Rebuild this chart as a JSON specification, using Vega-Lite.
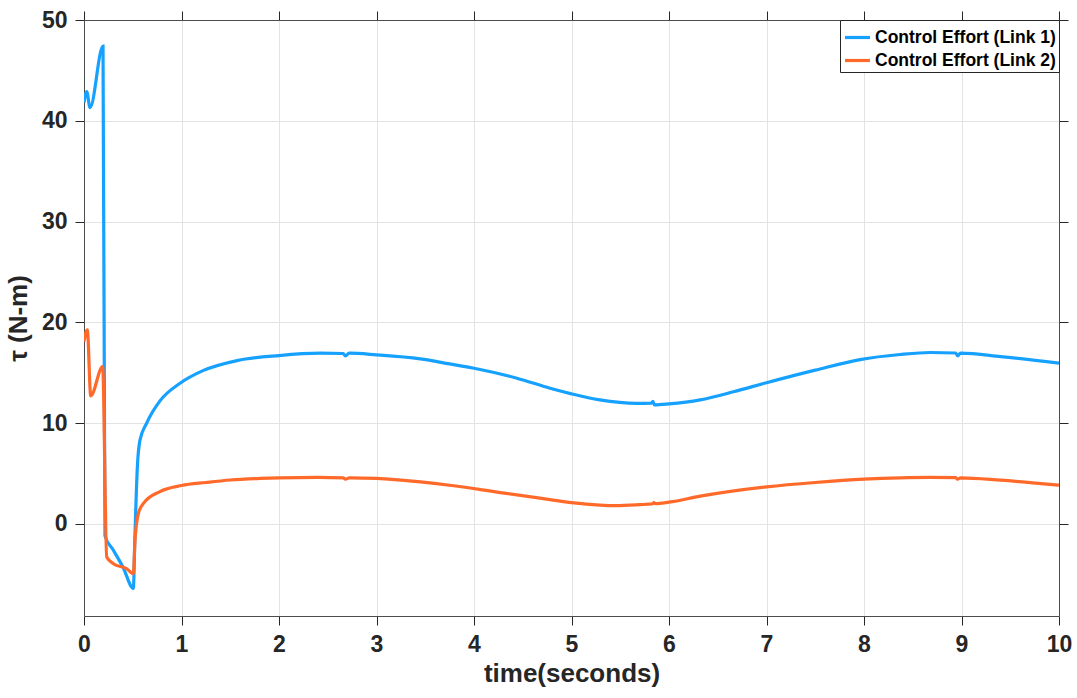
{
  "$schema": "https://vega.github.io/schema/vega-lite/v6.json",
  "autosize": {"type": "none"},
  "width": 975,
  "height": 596,
  "padding": {"left": 84, "top": 20, "right": 18, "bottom": 82},
  "background": "white",
  "data": {
    "values": [
      {"t": 0.0, "v": 41.8, "s": "Control Effort (Link 1)"},
      {"t": 0.028, "v": 42.9, "s": "Control Effort (Link 1)"},
      {"t": 0.062, "v": 41.3, "s": "Control Effort (Link 1)"},
      {"t": 0.195, "v": 47.4, "s": "Control Effort (Link 1)"},
      {"t": 0.215, "v": -1.2, "s": "Control Effort (Link 1)"},
      {"t": 0.3, "v": -2.6, "s": "Control Effort (Link 1)"},
      {"t": 0.4, "v": -4.3, "s": "Control Effort (Link 1)"},
      {"t": 0.506, "v": -6.4, "s": "Control Effort (Link 1)"},
      {"t": 0.523, "v": -1.0, "s": "Control Effort (Link 1)"},
      {"t": 0.547, "v": 5.6, "s": "Control Effort (Link 1)"},
      {"t": 0.574, "v": 8.3, "s": "Control Effort (Link 1)"},
      {"t": 0.643, "v": 10.0, "s": "Control Effort (Link 1)"},
      {"t": 0.779, "v": 12.2, "s": "Control Effort (Link 1)"},
      {"t": 0.985, "v": 13.95, "s": "Control Effort (Link 1)"},
      {"t": 1.22, "v": 15.2, "s": "Control Effort (Link 1)"},
      {"t": 1.57, "v": 16.2, "s": "Control Effort (Link 1)"},
      {"t": 2.0, "v": 16.7, "s": "Control Effort (Link 1)"},
      {"t": 2.42, "v": 16.93, "s": "Control Effort (Link 1)"},
      {"t": 2.66, "v": 16.9, "s": "Control Effort (Link 1)"},
      {"t": 2.68, "v": 16.67, "s": "Control Effort (Link 1)"},
      {"t": 2.72, "v": 16.93, "s": "Control Effort (Link 1)"},
      {"t": 3.0, "v": 16.77, "s": "Control Effort (Link 1)"},
      {"t": 3.45, "v": 16.37, "s": "Control Effort (Link 1)"},
      {"t": 3.75, "v": 15.87, "s": "Control Effort (Link 1)"},
      {"t": 4.0, "v": 15.44, "s": "Control Effort (Link 1)"},
      {"t": 4.44, "v": 14.45, "s": "Control Effort (Link 1)"},
      {"t": 4.78, "v": 13.45, "s": "Control Effort (Link 1)"},
      {"t": 5.0, "v": 12.9, "s": "Control Effort (Link 1)"},
      {"t": 5.29, "v": 12.3, "s": "Control Effort (Link 1)"},
      {"t": 5.67, "v": 11.96, "s": "Control Effort (Link 1)"},
      {"t": 5.82, "v": 11.98, "s": "Control Effort (Link 1)"},
      {"t": 5.835, "v": 12.15, "s": "Control Effort (Link 1)"},
      {"t": 5.85, "v": 11.8, "s": "Control Effort (Link 1)"},
      {"t": 6.0, "v": 11.9, "s": "Control Effort (Link 1)"},
      {"t": 6.32, "v": 12.3, "s": "Control Effort (Link 1)"},
      {"t": 6.66, "v": 13.1, "s": "Control Effort (Link 1)"},
      {"t": 7.0, "v": 14.0, "s": "Control Effort (Link 1)"},
      {"t": 7.5, "v": 15.25, "s": "Control Effort (Link 1)"},
      {"t": 7.96, "v": 16.3, "s": "Control Effort (Link 1)"},
      {"t": 8.37, "v": 16.8, "s": "Control Effort (Link 1)"},
      {"t": 8.68, "v": 17.0, "s": "Control Effort (Link 1)"},
      {"t": 8.94, "v": 16.95, "s": "Control Effort (Link 1)"},
      {"t": 8.96, "v": 16.67, "s": "Control Effort (Link 1)"},
      {"t": 8.99, "v": 16.93, "s": "Control Effort (Link 1)"},
      {"t": 9.4, "v": 16.6, "s": "Control Effort (Link 1)"},
      {"t": 10.0, "v": 15.94, "s": "Control Effort (Link 1)"},

      {"t": 0.0, "v": 18.1, "s": "Control Effort (Link 2)"},
      {"t": 0.034, "v": 19.25, "s": "Control Effort (Link 2)"},
      {"t": 0.069, "v": 12.7, "s": "Control Effort (Link 2)"},
      {"t": 0.191, "v": 15.6, "s": "Control Effort (Link 2)"},
      {"t": 0.233, "v": -3.3, "s": "Control Effort (Link 2)"},
      {"t": 0.301, "v": -3.96, "s": "Control Effort (Link 2)"},
      {"t": 0.438, "v": -4.46, "s": "Control Effort (Link 2)"},
      {"t": 0.506, "v": -4.96, "s": "Control Effort (Link 2)"},
      {"t": 0.523, "v": -1.64, "s": "Control Effort (Link 2)"},
      {"t": 0.557, "v": 1.0, "s": "Control Effort (Link 2)"},
      {"t": 0.608, "v": 2.0, "s": "Control Effort (Link 2)"},
      {"t": 0.779, "v": 3.2, "s": "Control Effort (Link 2)"},
      {"t": 1.0, "v": 3.8, "s": "Control Effort (Link 2)"},
      {"t": 1.25, "v": 4.1, "s": "Control Effort (Link 2)"},
      {"t": 1.5, "v": 4.35, "s": "Control Effort (Link 2)"},
      {"t": 1.8, "v": 4.5, "s": "Control Effort (Link 2)"},
      {"t": 2.0, "v": 4.56, "s": "Control Effort (Link 2)"},
      {"t": 2.4, "v": 4.6, "s": "Control Effort (Link 2)"},
      {"t": 2.66, "v": 4.55, "s": "Control Effort (Link 2)"},
      {"t": 2.68, "v": 4.42, "s": "Control Effort (Link 2)"},
      {"t": 2.72, "v": 4.55, "s": "Control Effort (Link 2)"},
      {"t": 3.0, "v": 4.5, "s": "Control Effort (Link 2)"},
      {"t": 3.45, "v": 4.16, "s": "Control Effort (Link 2)"},
      {"t": 3.75, "v": 3.83, "s": "Control Effort (Link 2)"},
      {"t": 4.27, "v": 3.1, "s": "Control Effort (Link 2)"},
      {"t": 4.78, "v": 2.4, "s": "Control Effort (Link 2)"},
      {"t": 5.0, "v": 2.1, "s": "Control Effort (Link 2)"},
      {"t": 5.29, "v": 1.85, "s": "Control Effort (Link 2)"},
      {"t": 5.45, "v": 1.8, "s": "Control Effort (Link 2)"},
      {"t": 5.7, "v": 1.9, "s": "Control Effort (Link 2)"},
      {"t": 5.83, "v": 1.98, "s": "Control Effort (Link 2)"},
      {"t": 5.845, "v": 2.1, "s": "Control Effort (Link 2)"},
      {"t": 5.86, "v": 2.0, "s": "Control Effort (Link 2)"},
      {"t": 6.0, "v": 2.15, "s": "Control Effort (Link 2)"},
      {"t": 6.32, "v": 2.74, "s": "Control Effort (Link 2)"},
      {"t": 7.0, "v": 3.66, "s": "Control Effort (Link 2)"},
      {"t": 7.5, "v": 4.1, "s": "Control Effort (Link 2)"},
      {"t": 8.0, "v": 4.43, "s": "Control Effort (Link 2)"},
      {"t": 8.37, "v": 4.56, "s": "Control Effort (Link 2)"},
      {"t": 8.68, "v": 4.6, "s": "Control Effort (Link 2)"},
      {"t": 8.94, "v": 4.58, "s": "Control Effort (Link 2)"},
      {"t": 8.96, "v": 4.42, "s": "Control Effort (Link 2)"},
      {"t": 8.99, "v": 4.56, "s": "Control Effort (Link 2)"},
      {"t": 9.4, "v": 4.33, "s": "Control Effort (Link 2)"},
      {"t": 10.0, "v": 3.83, "s": "Control Effort (Link 2)"}
    ]
  },
  "layer": [
    {
      "mark": {"type": "line", "strokeWidth": 3.2, "clip": true, "interpolate": "monotone"},
      "encoding": {
        "x": {
          "field": "t", "type": "quantitative",
          "scale": {"domain": [0, 10], "nice": false, "zero": false},
          "axis": {
            "title": "time(seconds)",
            "values": [0, 1, 2, 3, 4, 5, 6, 7, 8, 9, 10],
            "grid": true,
            "labelFlush": false,
            "labelOverlap": false,
            "labelPadding": 8,
            "titlePadding": 4
          }
        },
        "y": {
          "field": "v", "type": "quantitative",
          "scale": {"domain": [-9.15, 50], "nice": false, "zero": false},
          "axis": {
            "title": "τ (N-m)",
            "values": [0, 10, 20, 30, 40, 50],
            "grid": true,
            "labelFlush": false,
            "labelOverlap": false,
            "labelPadding": 8,
            "titlePadding": 10
          }
        },
        "color": {
          "field": "s", "type": "nominal",
          "scale": {
            "domain": ["Control Effort (Link 1)", "Control Effort (Link 2)"],
            "range": ["#17a1ff", "#ff6a2b"]
          },
          "legend": {
            "title": null,
            "orient": "top-right",
            "offset": 0,
            "padding": 3,
            "strokeColor": "#262626",
            "fillColor": "white",
            "symbolType": "stroke",
            "symbolSize": 625,
            "symbolStrokeWidth": 3.2,
            "labelFont": "Liberation Sans",
            "labelFontWeight": "bold",
            "labelFontSize": 17.5,
            "labelColor": "#000000",
            "labelOffset": 3,
            "labelLimit": 0,
            "rowPadding": -2,
            "symbolOpacity": 1
          }
        }
      }
    },
    {
      "mark": {"type": "line", "strokeOpacity": 0},
      "encoding": {
        "x": {
          "field": "t", "type": "quantitative",
          "axis": {"orient": "top", "title": null, "labels": false, "grid": false,
                   "values": [0, 1, 2, 3, 4, 5, 6, 7, 8, 9, 10]}
        },
        "y": {
          "field": "v", "type": "quantitative",
          "axis": {"orient": "right", "title": null, "labels": false, "grid": false,
                   "values": [0, 10, 20, 30, 40, 50]}
        },
        "detail": {"field": "s"}
      }
    }
  ],
  "resolve": {"axis": {"x": "independent", "y": "independent"}},
  "config": {
    "view": {"stroke": null},
    "axis": {
      "domainColor": "#4d4d4d",
      "domainWidth": 1,
      "tickColor": "#262626",
      "tickSize": 9,
      "tickWidth": 1,
      "gridColor": "#e3e3e3",
      "gridWidth": 1,
      "labelFont": "Liberation Sans",
      "labelFontWeight": "bold",
      "labelFontSize": 23,
      "labelColor": "#262626",
      "titleFont": "Liberation Sans",
      "titleFontWeight": "bold",
      "titleFontSize": 26,
      "titleColor": "#262626"
    }
  }
}
